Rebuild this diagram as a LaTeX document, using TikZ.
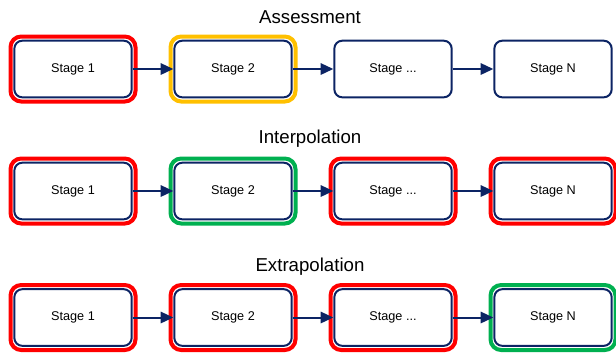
\documentclass[tikz,border=0pt]{standalone}
\usepackage{fontspec}
\setmainfont{Liberation Sans}
\usepackage{tikz}
\usetikzlibrary{arrows.meta}
\definecolor{navy}{RGB}{12,36,100}
\definecolor{frred}{RGB}{255,0,0}
\definecolor{frorange}{RGB}{255,192,0}
\definecolor{frgreen}{RGB}{0,176,80}
\tikzset{
         stagebox/.style={draw=navy,line width=1.5pt,rounded corners=6pt,fill=white,
                          minimum width=88pt,minimum height=42.5pt,inner sep=0pt,
                          font=\fontsize{9.5pt}{11pt}\selectfont},
         stageframe/.style={draw=#1,line width=3pt,rounded corners=8pt,
                          minimum width=93.75pt,minimum height=48.75pt,inner sep=0pt},
         flow/.style={draw=navy,line width=1.5pt,-{Triangle[length=9.5pt,width=8.5pt]}},
         rowtitle/.style={font=\fontsize{14pt}{16pt}\selectfont}
        }
\begin{document}
\begin{tikzpicture}[x=0.75pt,y=-0.75pt]
\useasboundingbox(0,0)rectangle(616,355);
% titles
\node[rowtitle](tA)at(310,17){Assessment};
\node[rowtitle](tI)at(310,139){Interpolation};
\node[rowtitle](tE)at(310,267){Extrapolation};
%frames
\node[stageframe=frred](fA1)at(73,69){};
\node[stageframe=frorange](fA2)at(233,69){};
\node[stageframe=frred](fI1)at(73,191){};
\node[stageframe=frgreen](fI2)at(233,191){};
\node[stageframe=frred](fI3)at(393,191){};
\node[stageframe=frred](fI4)at(553,191){};
\node[stageframe=frred](fE1)at(73,317.5){};
\node[stageframe=frred](fE2)at(233,317.5){};
\node[stageframe=frred](fE3)at(393,317.5){};
\node[stageframe=frgreen](fE4)at(553,317.5){};
%stages
\node[stagebox](A1)at(73,69){Stage 1};
\node[stagebox](A2)at(233,69){Stage 2};
\node[stagebox](A3)at(393,69){Stage ...};
\node[stagebox](A4)at(553,69){Stage N};
\node[stagebox](I1)at(73,191){Stage 1};
\node[stagebox](I2)at(233,191){Stage 2};
\node[stagebox](I3)at(393,191){Stage ...};
\node[stagebox](I4)at(553,191){Stage N};
\node[stagebox](E1)at(73,317.5){Stage 1};
\node[stagebox](E2)at(233,317.5){Stage 2};
\node[stagebox](E3)at(393,317.5){Stage ...};
\node[stagebox](E4)at(553,317.5){Stage N};
%arrows
\draw[flow](A1)--(A2);
\draw[flow](A2)--(A3);
\draw[flow](A3)--(A4);
\draw[flow](I1)--(I2);
\draw[flow](I2)--(I3);
\draw[flow](I3)--(I4);
\draw[flow](E1)--(E2);
\draw[flow](E2)--(E3);
\draw[flow](E3)--(E4);
\end{tikzpicture}
\end{document}
